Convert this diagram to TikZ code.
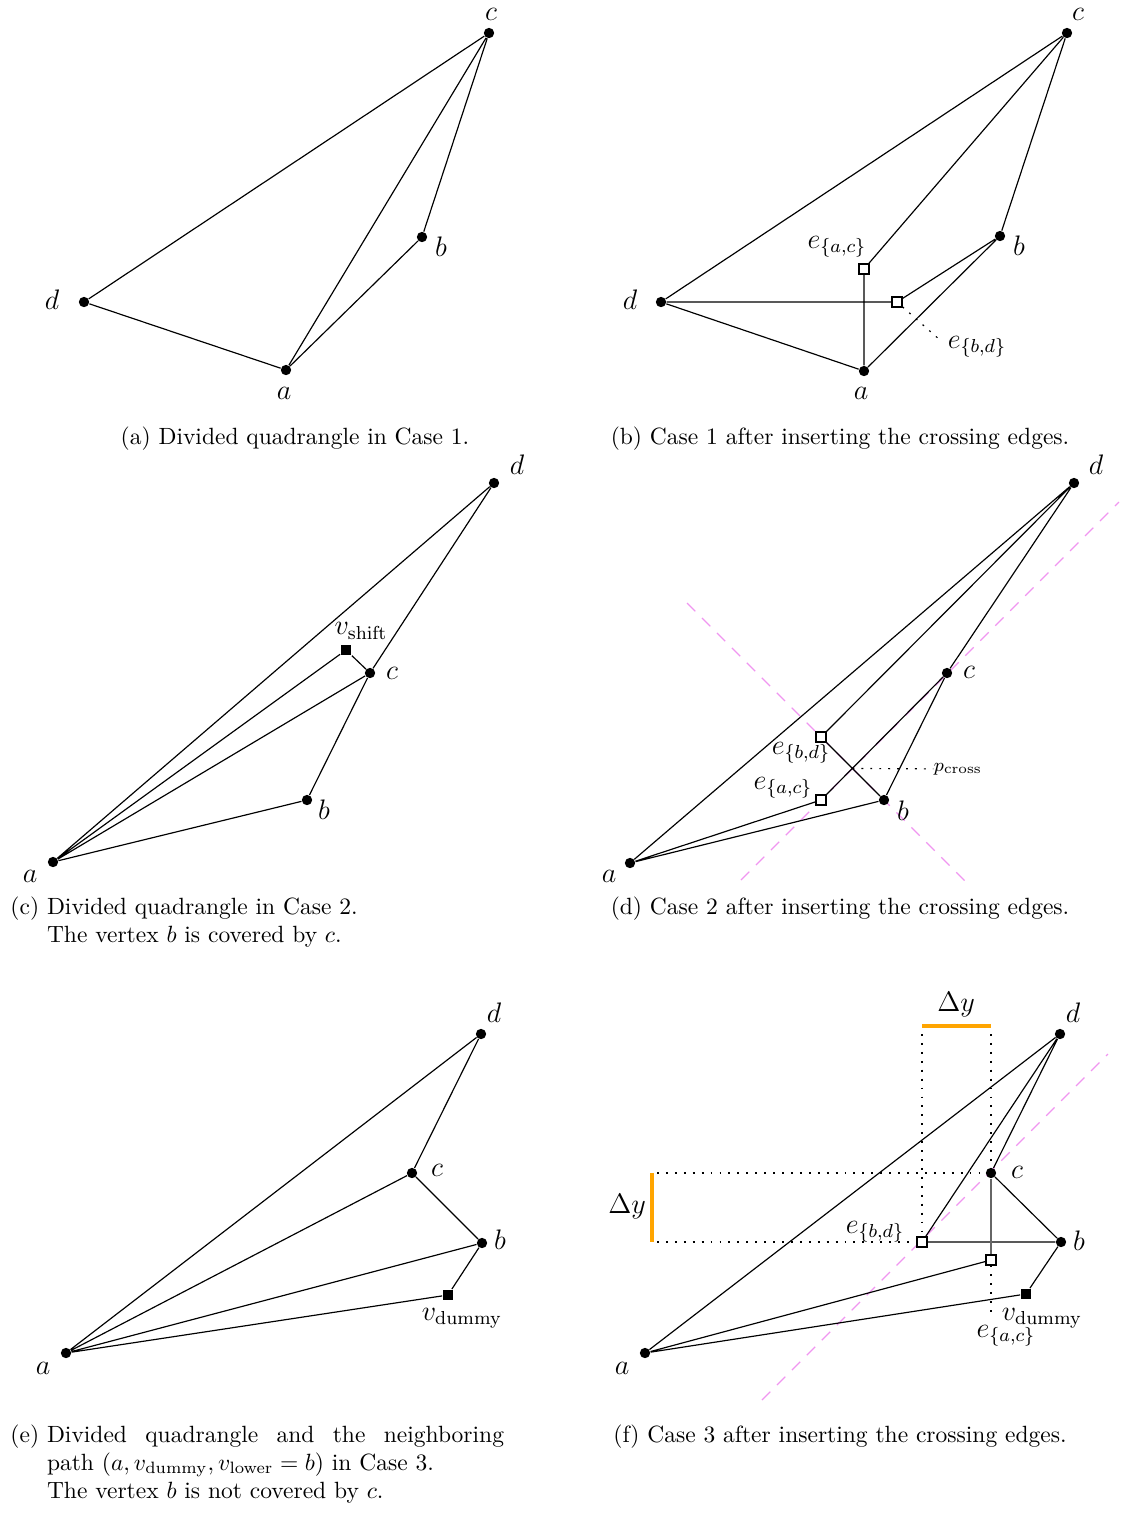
\documentclass[tikz,border=0pt]{standalone}
\usepackage{tikz}
\usetikzlibrary{positioning, calc, backgrounds}
\usepackage{amsmath}
\definecolor{cOrange}{RGB}{255,165,0}
\definecolor{cPink}{RGB}{240,150,240}
\newcommand{\hangcap}[2]{\sbox0{#1\ }\noindent\hangindent=\wd0\hangafter=1\usebox0#2\par}

\begin{document}
\begin{tikzpicture}[x=0.01496cm, y=-0.01496cm,
            vtx/.style={circle, fill=black, inner sep=0pt, minimum size=4.4pt},
            xsq/.style={rectangle, draw=black, fill=white, semithick, inner sep=0pt, minimum size=4.1pt},
            dsq/.style={rectangle, fill=black, inner sep=0pt, minimum size=4.6pt},
            ed/.style={draw=black, line width=0.5pt},
            aux/.style={draw=black, line width=0.5pt, dash pattern=on 0.8pt off 3pt},
            diag/.style={draw=cPink, line width=0.5pt, dash pattern=on 5pt off 4pt},
            dlt/.style={draw=cOrange, line width=1.4pt},
            lbl/.style={inner sep=0pt, font=\fontsize{11.5}{13}\selectfont},
            capt/.style={inner sep=0pt, anchor=base},
            mcapt/.style={inner sep=0pt, anchor=north west, text width=210pt, align=justify}]
            \useasboundingbox (0,0) rectangle (1121,1515);
            % (a) case 1
            \node[vtx] (ca) at (489,33)  {};
            \node[vtx] (ba) at (422,237) {};
            \node[vtx] (da) at (84,302)  {};
            \node[vtx] (aa) at (286,370) {};
            \node[lbl] (ca-l) at (491,14)  {$c$};
            \node[lbl] (ba-l) at (441,247) {$b$};
            \node[lbl] (da-l) at (52,300)  {$d$};
            \node[lbl] (aa-l) at (284,393) {$a$};
            \draw[ed] (da)--(ca) (ca)--(ba) (ca)--(aa) (ba)--(aa) (da)--(aa);
            \node[capt] (cap-a) at (295,444) {(a) Divided quadrangle in Case 1.};
            % (b) case 1, crossing edges
            \node[vtx] (cb) at (1067,33)  {};
            \node[vtx] (bb) at (1000,236) {};
            \node[vtx] (db) at (661,302)  {};
            \node[vtx] (ab) at (864,371)  {};
            \node[xsq] (eacb) at (864,269) {};
            \node[xsq] (ebdb) at (897,302) {};
            \node[lbl] (cb-l) at (1078,14)  {$c$};
            \node[lbl] (bb-l) at (1019,246) {$b$};
            \node[lbl] (db-l) at (630,300)  {$d$};
            \node[lbl] (ab-l) at (861,393)  {$a$};
            \node[lbl] (eacb-l) at (837,247) {$e_{\{a,c\}}$};
            \node[lbl] (ebdb-l) at (977,347) {$e_{\{b,d\}}$};
            \coordinate (ebdb-t) at (940,340);
            \draw[ed] (db)--(cb) (cb)--(eacb) (eacb)--(ab) (db)--(ebdb) (ebdb)--(bb)
                      (bb)--(ab) (cb)--(bb) (db)--(ab);
            \draw[aux] (ebdb)--(ebdb-t);
            \node[capt] (cap-b) at (840,444) {(b) Case 1 after inserting the crossing edges.};
            % (c) case 2
            \node[vtx] (dc) at (494,483) {};
            \node[dsq] (vsc) at (346,650) {};
            \node[vtx] (cc) at (370,673) {};
            \node[vtx] (bc) at (307,800) {};
            \node[vtx] (ac) at (53,862)  {};
            \node[lbl] (dc-l) at (517,465)  {$d$};
            \node[lbl] (vsc-l) at (361,631) {$v_{\mathrm{shift}}$};
            \node[lbl] (cc-l) at (392,673)  {$c$};
            \node[lbl] (bc-l) at (324,810)  {$b$};
            \node[lbl] (ac-l) at (30,876)   {$a$};
            \draw[ed] (ac)--(dc) (dc)--(cc) (cc)--(bc) (bc)--(ac) (ac)--(cc)
                      (ac)--(vsc) (vsc)--(cc);
            \node[mcapt] (cap-c) at (10,896) {\hangcap{(c)}{Divided quadrangle in Case 2.\\The vertex $b$ is covered by $c$.}};
            % (d) case 2, crossing edges
            \node[vtx] (dd) at (1074,483) {};
            \node[vtx] (cd) at (947,673)  {};
            \node[vtx] (bd) at (884,800)  {};
            \node[vtx] (ad) at (630,863)  {};
            \node[xsq] (ebdd) at (821,737) {};
            \node[xsq] (eacd) at (821,800) {};
            \node[lbl] (dd-l) at (1096,465) {$d$};
            \node[lbl] (cd-l) at (969,672)  {$c$};
            \node[lbl] (bd-l) at (903,811)  {$b$};
            \node[lbl] (ad-l) at (609,876)  {$a$};
            \node[lbl] (ebdd-l) at (801,753) {$e_{\{b,d\}}$};
            \node[lbl] (eacd-l) at (783,788) {$e_{\{a,c\}}$};
            \node[lbl, font=\fontsize{8}{9}\selectfont] (pcr-l) at (958,769) {$p_{\mathrm{cross}}$};
            \coordinate (pcr) at (intersection of ebdd--bd and eacd--cd);
            \coordinate (dg1s) at (687,603);
            \coordinate (dg1e) at (965,881);
            \coordinate (dg2s) at (741,880);
            \coordinate (dg2e) at (1119,502);
            \begin{scope}[on background layer]
                \draw[diag] (dg1s)--(dg1e) (dg2s)--(dg2e);
            \end{scope}
            \draw[ed] (ad)--(dd) (dd)--(ebdd) (ebdd)--(bd) (eacd)--(cd) (ad)--(eacd)
                      (ad)--(bd) (cd)--(bd) (dd)--(cd);
            \draw[aux] (pcr)--(pcr-l);
            \node[capt] (cap-d) at (840,914) {(d) Case 2 after inserting the crossing edges.};
            % (e) case 3
            \node[vtx] (de) at (481,1034) {};
            \node[vtx] (ce) at (412,1173) {};
            \node[vtx] (be) at (482,1243) {};
            \node[dsq] (vde) at (448,1295) {};
            \node[vtx] (ae) at (66,1353)  {};
            \node[lbl] (de-l) at (494,1013)  {$d$};
            \node[lbl] (ce-l) at (437,1170)  {$c$};
            \node[lbl] (be-l) at (500,1240)  {$b$};
            \node[lbl] (vde-l) at (462,1318) {$v_{\mathrm{dummy}}$};
            \node[lbl] (ae-l) at (43,1368)   {$a$};
            \draw[ed] (ae)--(de) (de)--(ce) (ce)--(be) (ae)--(ce) (ae)--(be)
                      (ae)--(vde) (vde)--(be);
            \node[mcapt] (cap-e) at (10,1424) {\hangcap{(e)}{Divided quadrangle and the neighboring\linebreak
                path $(a, v_{\mathrm{dummy}}, v_{\mathrm{lower}} = b)$ in Case 3.\\
                The vertex $b$ is not covered by $c$.}};
            % (f) case 3, crossing edges
            \node[vtx] (df) at (1060,1034) {};
            \node[vtx] (cf) at (991,1173)  {};
            \node[vtx] (bf) at (1061,1242) {};
            \node[dsq] (vdf) at (1026,1294) {};
            \node[vtx] (af) at (645,1353)  {};
            \node[xsq] (ebdf) at (922,1242) {};
            \node[xsq] (eacf) at (991,1260) {};
            \node[lbl] (df-l) at (1073,1013)  {$d$};
            \node[lbl] (cf-l) at (1017,1172)  {$c$};
            \node[lbl] (bf-l) at (1079,1241)  {$b$};
            \node[lbl] (vdf-l) at (1042,1318) {$v_{\mathrm{dummy}}$};
            \node[lbl] (af-l) at (622,1368)   {$a$};
            \node[lbl] (ebdf-l) at (875,1232) {$e_{\{b,d\}}$};
            \node[lbl] (eacf-l) at (1006,1336) {$e_{\{a,c\}}$};
            \node[lbl] (dyt-l) at (956,1005) {$\Delta y$};
            \node[lbl] (dyl-l) at (627,1207) {$\Delta y$};
            \coordinate (hc) at (657,1173);
            \coordinate (hb) at (657,1242);
            \coordinate (vl) at (922,1034);
            \coordinate (vr) at (991,1034);
            \coordinate (ve) at (991,1312);
            \coordinate (dytl) at (922,1026);
            \coordinate (dytr) at (991,1026);
            \coordinate (dylt) at (652,1173);
            \coordinate (dylb) at (652,1242);
            \coordinate (dg3s) at (762,1400);
            \coordinate (dg3e) at (1108,1054);
            \begin{scope}[on background layer]
                \draw[diag] (dg3s)--(dg3e);
                \draw[aux] (hc)--(cf) (hb)--(ebdf) (vl)--(ebdf) (vr)--(cf) (eacf)--(ve);
            \end{scope}
            \draw[ed] (af)--(df) (df)--(cf) (af)--(eacf) (ebdf)--(bf) (df)--(ebdf)
                      (cf)--(bf) (af)--(vdf) (vdf)--(bf);
            \draw[ed, draw=black!60, line width=0.6pt] (cf)--(eacf);
            \draw[dlt] (dytl)--(dytr) (dylt)--(dylb);
            \node[capt] (cap-f) at (840,1442) {(f) Case 3 after inserting the crossing edges.};
        \end{tikzpicture}
\end{document}
